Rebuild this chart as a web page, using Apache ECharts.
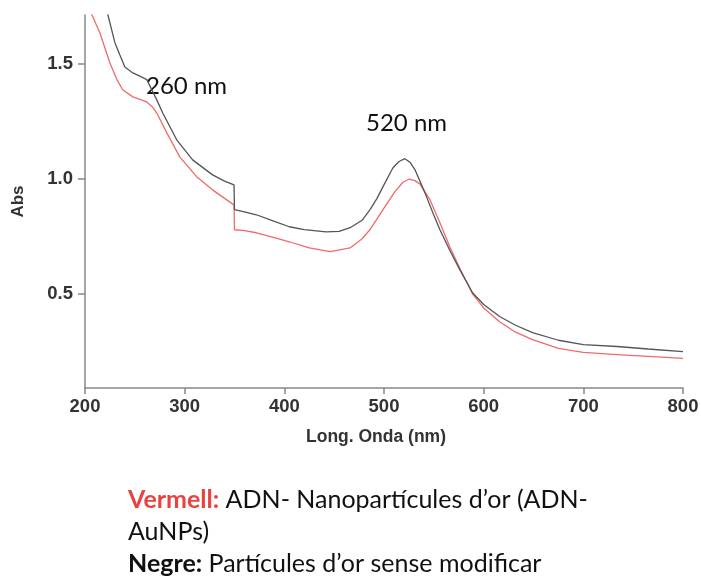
<!DOCTYPE html>
<html>
<head>
<meta charset="utf-8">
<script src="https://cdn.jsdelivr.net/npm/echarts@6/dist/echarts.min.js"></script>
<style>
html,body{margin:0;padding:0;background:#fff;}
#chart{width:701px;height:584px;}
</style>
</head>
<body>
<div id="chart"></div>
<script>
// Wavelength (nm) and absorbance
const blackWave = [215,223,230,235,240,248,255,262,272,278,292,308,328,340,349.5,350,360,372,390,405,420,442,455,466,478,486,493,499,509,515,521,526,531,541,549,556,566,576,589,600,616,632,649,675,700,734,765,800];
const blackAbs  = [1.86,1.71,1.59,1.537,1.485,1.459,1.445,1.43,1.342,1.285,1.169,1.082,1.017,0.99,0.974,0.866,0.857,0.844,0.815,0.792,0.78,0.77,0.772,0.788,0.82,0.866,0.915,0.966,1.048,1.075,1.087,1.072,1.04,0.94,0.853,0.78,0.69,0.606,0.505,0.455,0.403,0.365,0.333,0.3,0.281,0.273,0.262,0.251];

const redWave = [200,207,215,225,232,238,248,262,268,272,282,295,312,328,340,349.5,350,360,372,390,405,425,446,466,478,486,499,511,519,525,531,536,546,556,566,576,589,600,616,632,649,675,700,734,765,800];
const redAbs  = [1.79,1.71,1.632,1.502,1.43,1.385,1.355,1.333,1.31,1.285,1.2,1.095,1.009,0.952,0.915,0.887,0.779,0.775,0.766,0.745,0.727,0.7,0.684,0.7,0.74,0.78,0.866,0.944,0.985,0.998,0.992,0.978,0.91,0.81,0.705,0.612,0.5,0.44,0.38,0.335,0.303,0.265,0.247,0.238,0.23,0.221];

const xTicks = [200,300,400,500,600,700,800];
const yTicks = [0.5,1.0,1.5];

const peakLabels = ['260 nm','520 nm'];
const xName = 'Long. Onda (nm)';
const yName = 'Abs';
const captionLines = [
  [{t:'Vermell:', s:'red'},{t:' ADN- Nanopartícules d\u2019or (ADN-', s:'n'}],
  [{t:'AuNPs)', s:'n'}],
  [{t:'Negre:', s:'bold'},{t:' Partícules d\u2019or sense modificar', s:'n'}]
];

const chart = echarts.init(document.getElementById('chart'), null, {renderer:'canvas'});

const toPairs = (xs, ys) => xs.map((x,i)=>[x, ys[i]]);

const captionGraphics = captionLines.map((parts, i) => ({
  type:'text',
  left:128,
  top:487 + i*32,
  style:{
    text: parts.map(p => '{' + p.s + '|' + p.t + '}').join(''),
    rich:{
      red:{fontFamily:'Lato', fontSize:25, fontWeight:'bold', fill:'#e8433e', color:'#e8433e'},
      bold:{fontFamily:'Lato', fontSize:25, fontWeight:'bold', fill:'#111', color:'#111'},
      n:{fontFamily:'Lato', fontSize:25, fill:'#111', color:'#111'}
    }
  }
}));

const option = {
  backgroundColor:'#fff',
  animation:false,
  grid:{left:85, top:15, width:598, height:373, containLabel:false, outerBoundsMode:'none'},
  xAxis:{
    type:'value', min:200, max:800, interval:100,
    name:xName, nameLocation:'middle', nameGap:40,
    nameTextStyle:{fontFamily:'Liberation Sans', fontWeight:'bold', fontSize:17.5, color:'#333', padding:[0,16,0,0]},
    axisLine:{show:true, onZero:false, lineStyle:{color:'#888', width:1.5}},
    axisTick:{show:true, length:6, lineStyle:{color:'#888', width:1.5}},
    axisLabel:{fontFamily:'Liberation Sans', fontWeight:'bold', fontSize:18.5, color:'#333', margin:9,
      formatter: v => xTicks.includes(v) ? String(v) : ''},
    splitLine:{show:false}
  },
  yAxis:{
    type:'value', min:0.093, max:1.71,
    name:yName, nameLocation:'middle', nameGap:58, nameRotate:90,
    nameTextStyle:{fontFamily:'Liberation Sans', fontWeight:'bold', fontSize:17, color:'#333'},
    axisLine:{show:true, onZero:false, lineStyle:{color:'#888', width:1.5}},
    axisTick:{show:true, length:7, customValues:yTicks, lineStyle:{color:'#888', width:1.5}},
    axisLabel:{fontFamily:'Liberation Sans', fontWeight:'bold', fontSize:18.5, color:'#333', margin:12,
      customValues:yTicks, formatter: v => Number(v).toFixed(1)},
    splitLine:{show:false}
  },
  series:[
    {type:'line', name:'Vermell', data:toPairs(redWave, redAbs), showSymbol:false, symbol:'none',
      clip:true, lineStyle:{color:'#ef6a6a', width:1.3}, z:2},
    {type:'line', name:'Negre', data:toPairs(blackWave, blackAbs), showSymbol:false, symbol:'none',
      clip:true, lineStyle:{color:'#555', width:1.3}, z:3}
  ],
  graphic:[
    {type:'text', left:146, top:74, style:{text:peakLabels[0], fontFamily:'Lato', fontSize:24, fill:'#111'}},
    {type:'text', left:366, top:111, style:{text:peakLabels[1], fontFamily:'Lato', fontSize:24, fill:'#111'}}
  ].concat(captionGraphics)
};
chart.setOption(option);
</script>
</body>
</html>
